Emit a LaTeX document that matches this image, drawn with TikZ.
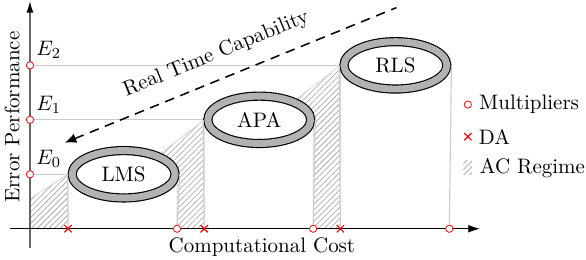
\documentclass[tikz,border=0pt,11pt]{standalone}
\usetikzlibrary{arrows.meta,positioning,shapes.geometric,shapes.misc,patterns}

\begin{document}
\begin{tikzpicture}[
  algo/.style={ellipse,draw,line width=0.6pt,double=black!30,double distance=3.6pt,fill=white,minimum width=1.89cm,minimum height=0.87cm,inner sep=0pt,outer sep=2.4pt},
  mult/.style={circle,draw=red,fill=white,thin,minimum size=3.8pt,inner sep=0pt},
  damark/.style={cross out,draw=red,semithick,minimum size=3.2pt,inner sep=0pt},
  guide/.style={black!20,semithick},
  acreg/.style={pattern=north east lines,pattern color=black!30,draw=black!15}]
  \useasboundingbox (-0.55,-0.57) rectangle (10.21,4.2);
  % AC regime areas
  \path[acreg] (0,0) -- (0,0.55) -- (0.7,1) -- (0.7,0) -- cycle;
  \path[acreg] (2.7,0) -- (2.7,1) -- (1.9,1) -- (3.2,2) -- (3.2,0) -- cycle;
  \path[acreg] (5.2,0) -- (5.2,2) -- (4.4,2) -- (5.7,3) -- (5.7,0) -- cycle;
  % Axes
  \coordinate (yfoot) at (0,-0.35);
  \coordinate (ytop) at (0,4.18);
  \coordinate (xfoot) at (-0.37,0);
  \coordinate (xtip) at (8.26,0);
  \draw[black!60,semithick,-{Latex[black,length=6pt,width=3.6pt]}] (yfoot) -- (ytop);
  \draw[-{Latex[length=6pt,width=4pt]}] (xfoot) -- (xtip);
  \node[rotate=90] (ylabel) at (-0.33,2.05) {Error Performance};
  \node (xlabel) at (4.26,-0.34) {Computational Cost};
  % Algorithms
  \node[algo] (lms) at (1.72,1) {LMS};
  \node[algo] (apa) at (4.21,2) {APA};
  \node[algo] (rls) at (6.71,3) {RLS};
  % Error levels
  \node[mult,label={[inner sep=1pt,label distance=1pt]above right:$E_0$}] (e0) at (0,1) {};
  \node[mult,label={[inner sep=1pt,label distance=1pt]above right:$E_1$}] (e1) at (0,2) {};
  \node[mult,label={[inner sep=1pt,label distance=1pt]above right:$E_2$}] (e2) at (0,3) {};
  % Cost marks
  \node[damark] (da0) at (0.7,0) {};
  \node[mult] (m0) at (2.7,0) {};
  \node[damark] (da1) at (3.2,0) {};
  \node[mult] (m1) at (5.2,0) {};
  \node[damark] (da2) at (5.7,0) {};
  \node[mult] (m2) at (7.7,0) {};
  % Guide lines
  \draw[guide] (e0) -- (lms.west);
  \draw[guide] (e1) -- (apa.west);
  \draw[guide] (e2) -- (rls.west);
  \draw[guide] (lms.west) -- (da0);
  \draw[guide] (lms.east) -- (m0);
  \draw[guide] (apa.west) -- (da1);
  \draw[guide] (apa.east) -- (m1);
  \draw[guide] (rls.west) -- (da2);
  \draw[guide] (rls.east) -- (m2);
  % Real time trend
  \coordinate (rtlow) at (0.64,1.58);
  \coordinate (rthigh) at (6.73,4.06);
  \draw[thick,dash pattern=on 5pt off 3.5pt,{Latex[length=6pt,width=5pt]}-] (rtlow) -- node[sloped,above=4pt,pos=0.485] (rtlabel) {Real Time Capability} (rthigh);
  % Legend
  \node[mult] (legmult) at (8.04,2.28) {};
  \node[right=0pt of legmult] (legmulttxt) {Multipliers};
  \node[damark] (legda) at (8.04,1.69) {};
  \node[right=0pt of legda] (legdatxt) {DA};
  \node[acreg,draw=none,minimum width=0.16cm,minimum height=0.26cm,inner sep=0pt] (legac) at (8.04,1.12) {};
  \node[right=0pt of legac] (legactxt) {AC Regime};
\end{tikzpicture}
\end{document}
